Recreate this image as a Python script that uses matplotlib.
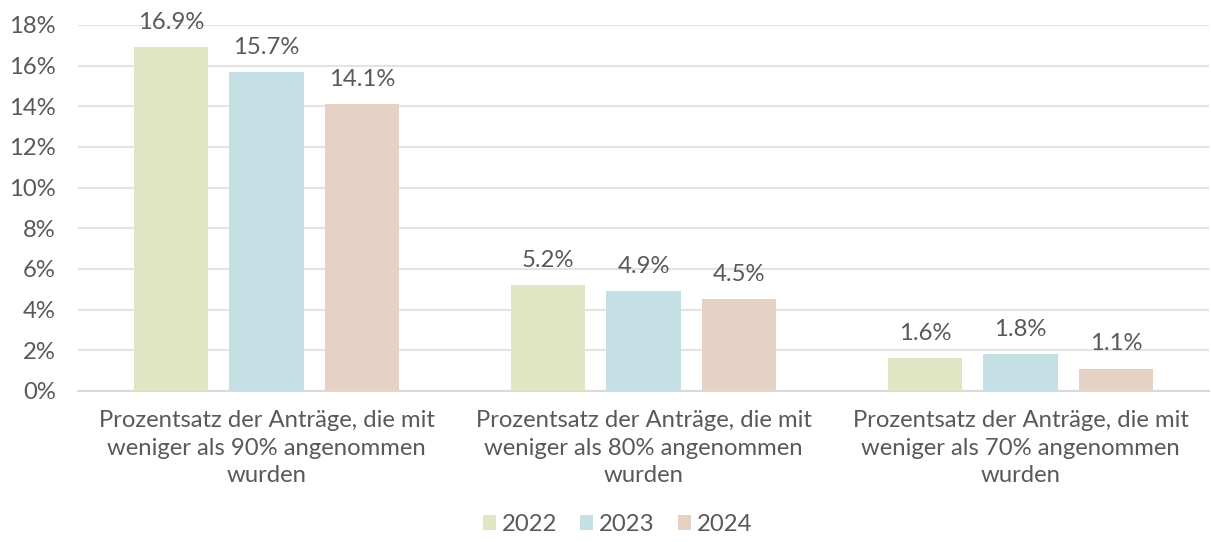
import numpy as np
import matplotlib.pyplot as plt
from matplotlib.ticker import FuncFormatter

plt.rcParams['font.family'] = ['Lato', 'DejaVu Sans']

categories = ['Prozentsatz der Anträge, die mit\nweniger als 90% angenommen\nwurden',
              'Prozentsatz der Anträge, die mit\nweniger als 80% angenommen\nwurden',
              'Prozentsatz der Anträge, die mit\nweniger als 70% angenommen\nwurden']
years = ['2022', '2023', '2024']
v2022 = [16.9, 5.2, 1.6]
v2023 = [15.7, 4.9, 1.8]
v2024 = [14.1, 4.5, 1.1]
colors = ['#E0E6C3', '#C5E0E5', '#E5D2C4']
txt = '#595959'
fs = 17.2

fig = plt.figure(figsize=(12.11, 5.42), dpi=100, facecolor='white')
ax = fig.add_axes([0.0644, 0.2786, 0.934, 0.6753])

x = np.arange(len(categories))
w = 0.198
step = 0.253
for i, (vals, yr) in enumerate(zip([v2022, v2023, v2024], years)):
    pos = x + (i - 1) * step
    bars = ax.bar(pos, vals, w, color=colors[i], label=yr, zorder=3)
    for b, v in zip(bars, vals):
        ax.text(b.get_x() + b.get_width() / 2, v + 0.7, f'{v:.1f}%',
                ha='center', va='bottom', fontsize=fs, color=txt)

ax.set_xlim(-0.5, 2.5)
ax.set_ylim(0, 18)
ax.set_yticks(np.arange(0, 19, 2))
ax.yaxis.set_major_formatter(FuncFormatter(lambda v, p: f'{v:.0f}%'))
ax.set_xticks(x)
ax.set_xticklabels(categories, fontsize=fs, color=txt, linespacing=1.38)
ax.tick_params(axis='y', labelsize=fs, labelcolor=txt, length=0, pad=16)
ax.tick_params(axis='x', length=0, pad=14)
ax.grid(axis='y', color='#E3E3E3', linewidth=1.5, zorder=0)
for s in ['top', 'right', 'left']:
    ax.spines[s].set_visible(False)
ax.spines['bottom'].set_color('#DADADA')
ax.spines['bottom'].set_linewidth(1.5)

leg = fig.legend(loc='lower center', bbox_to_anchor=(0.51, -0.027), ncol=3, frameon=False,
                 fontsize=fs, handlelength=0.55, handleheight=0.55, handletextpad=0.25,
                 columnspacing=0.95)
for t in leg.get_texts():
    t.set_color(txt)

plt.savefig('out.png', dpi=100)
